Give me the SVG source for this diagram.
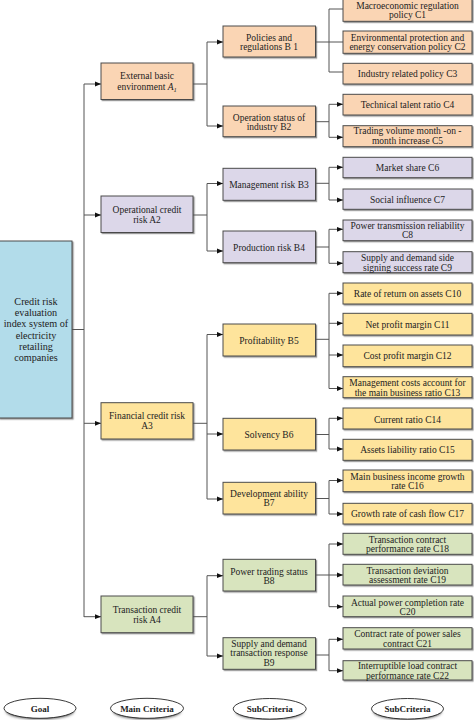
<svg xmlns="http://www.w3.org/2000/svg" width="474" height="720" viewBox="0 0 474 720">
<defs>
<style>
.bx{stroke:#4a4a4a;stroke-width:1;filter:url(#sh)}
.or{fill:#fad5b4}.pu{fill:#dcd7e9}.ye{fill:#fee49c}.gr{fill:#d8e4be}.bl{fill:#b2dcea}
text{font-family:"Liberation Serif","Times New Roman",serif;font-size:9.5px;fill:#222;text-anchor:middle}
.g text{font-size:10.2px}
.lbl text{font-weight:bold;font-size:9px}
.cn path{fill:none;stroke:#555;stroke-width:1}
.ar{marker-end:url(#ah)}
</style>
<marker id="ah" markerUnits="userSpaceOnUse" markerWidth="6" markerHeight="6" refX="6" refY="3" orient="auto">
<path d="M0,0.6 L6,3 L0,5.4 Z" fill="#111"/>
</marker>
<filter id="sh" x="-5%" y="-5%" width="115%" height="130%">
<feDropShadow dx="1.2" dy="1.2" stdDeviation="0.4" flood-color="#555" flood-opacity="0.6"/>
</filter>
<filter id="bl2" x="-20%" y="-50%" width="140%" height="200%">
<feGaussianBlur stdDeviation="1.6"/>
</filter>
</defs>
<rect width="474" height="720" fill="#fff"/>

<g class="cn">
<path d="M72 329.5H84M84 84V617"/>
<path class="ar" d="M84 84H101"/><path class="ar" d="M84 215H101"/><path class="ar" d="M84 423.3H101"/><path class="ar" d="M84 616.7H101"/>
<path d="M193 84H207M207 42V126"/><path class="ar" d="M207 42H223"/><path class="ar" d="M207 126H223"/>
<path d="M193 215H207M207 183.5V251"/><path class="ar" d="M207 183.5H223"/><path class="ar" d="M207 251H223"/>
<path d="M193 423.3H207M207 334.5V499"/><path class="ar" d="M207 334.5H223"/><path class="ar" d="M207 434H223"/><path class="ar" d="M207 499H223"/>
<path d="M193 616.7H207M207 575.7V656"/><path class="ar" d="M207 575.7H223"/><path class="ar" d="M207 656H223"/>
<path d="M315.5 42H329M329 9V72M329 9H343M329 42H343M329 72H343"/>
<path d="M315.5 121.7H329M329 104.3V137.3"/><path class="ar" d="M329 104.3H343"/><path class="ar" d="M329 137.3H343"/>
<path d="M315.5 183.3H329M329 167.3V200"/><path class="ar" d="M329 167.3H343"/><path class="ar" d="M329 200H343"/>
<path d="M315.5 247H329M329 229.3V263.3"/><path class="ar" d="M329 229.3H343"/><path class="ar" d="M329 263.3H343"/>
<path d="M315.5 339.3H329M329 293.3V388.5"/><path class="ar" d="M329 293.3H343"/><path class="ar" d="M329 323.3H343"/><path class="ar" d="M329 355H343"/><path class="ar" d="M329 388.5H343"/>
<path d="M315.5 434.5H329M329 418.3V449"/><path class="ar" d="M329 418.3H343"/><path class="ar" d="M329 449H343"/>
<path d="M315.5 498.5H329M329 480.5V514"/><path class="ar" d="M329 480.5H343"/><path class="ar" d="M329 514H343"/>
<path d="M315.5 575H329M329 544V606.7"/><path class="ar" d="M329 544H343"/><path class="ar" d="M329 575H343"/><path class="ar" d="M329 606.7H343"/>
<path d="M315.5 655H329M329 639.3V670.7"/><path class="ar" d="M329 639.3H343"/><path class="ar" d="M329 670.7H343"/>
</g>

<g id="goal" class="g"><rect class="bx bl" x="-1" y="241" width="73" height="177"/>
<text x="36" y="305.2">Credit risk</text><text x="36" y="316.3">evaluation</text><text x="36" y="327.4">index system of</text><text x="36" y="338.5">electricity</text><text x="36" y="349.6">retailing</text><text x="36" y="360.7">companies</text></g>

<g id="A1"><rect class="bx or" x="101" y="63" width="92" height="36.5"/><text x="147" y="78.8">External basic</text><text x="147" y="90.3">environment  <tspan font-style="italic">A</tspan><tspan font-style="italic" font-size="6.5" dy="1.5">1</tspan></text></g>
<g id="A2"><rect class="bx pu" x="101" y="196" width="92" height="36.5"/><text x="147" y="213.3">Operational credit</text><text x="147" y="223">risk  A2</text></g>
<g id="A3"><rect class="bx ye" x="101" y="402.7" width="92" height="36.3"/><text x="147" y="419.3">Financial credit risk</text><text x="147" y="429">A3</text></g>
<g id="A4"><rect class="bx gr" x="101" y="596" width="92" height="36.7"/><text x="147" y="613.3">Transaction credit</text><text x="147" y="622.6">risk A4</text></g>

<g id="B1"><rect class="bx or" x="223" y="26" width="92.5" height="31"/><text x="269" y="41">Policies and</text><text x="269" y="50.3">regulations B 1</text></g>
<g id="B2"><rect class="bx or" x="223" y="106" width="92.5" height="30.7"/><text x="269" y="120.6">Operation status of</text><text x="269" y="130.3">industry  B2</text></g>
<g id="B3"><rect class="bx pu" x="223" y="168.3" width="92.5" height="32"/><text x="269" y="187.6">Management risk  B3</text></g>
<g id="B4"><rect class="bx pu" x="223" y="231" width="92.5" height="31.7"/><text x="269" y="251">Production risk  B4</text></g>
<g id="B5"><rect class="bx ye" x="223" y="324" width="92.5" height="32"/><text x="269" y="344">Profitability  B5</text></g>
<g id="B6"><rect class="bx ye" x="223" y="418.3" width="92.5" height="31.7"/><text x="269" y="437.8">Solvency  B6</text></g>
<g id="B7"><rect class="bx ye" x="223" y="482.3" width="92.5" height="31.7"/><text x="269" y="497">Development ability</text><text x="269" y="506.3">B7</text></g>
<g id="B8"><rect class="bx gr" x="223" y="559.3" width="92.5" height="31.7"/><text x="269" y="575">Power trading status</text><text x="269" y="584.3">B8</text></g>
<g id="B9"><rect class="bx gr" x="223" y="637.7" width="92.5" height="31.6"/><text x="269" y="646.6">Supply and demand</text><text x="269" y="656.3">transaction response</text><text x="269" y="666">B9</text></g>

<g id="C1"><rect class="bx or" x="343" y="-1" width="129" height="22.3"/><text x="407.5" y="9">Macroeconomic regulation</text><text x="407.5" y="18">policy C1</text></g>
<g id="C2"><rect class="bx or" x="343" y="31" width="129" height="22.3"/><text x="407.5" y="40.6">Environmental protection and</text><text x="407.5" y="50.3">energy conservation policy C2</text></g>
<g id="C3"><rect class="bx or" x="343" y="63.3" width="129" height="20.7"/><text x="407.5" y="77.3">Industry related policy C3</text></g>
<g id="C4"><rect class="bx or" x="343" y="94.3" width="129" height="20.7"/><text x="407.5" y="107.6">Technical talent ratio C4</text></g>
<g id="C5"><rect class="bx or" x="343" y="125.7" width="129" height="21"/><text x="407.5" y="134.3">Trading volume month -on -</text><text x="407.5" y="144.3">month increase C5</text></g>
<g id="C6"><rect class="bx pu" x="343" y="157.3" width="129" height="20.4"/><text x="407.5" y="171">Market share C6</text></g>
<g id="C7"><rect class="bx pu" x="343" y="189" width="129" height="20.3"/><text x="407.5" y="202.6">Social influence C7</text></g>
<g id="C8"><rect class="bx pu" x="343" y="220" width="129" height="20.7"/><text x="407.5" y="228.6">Power transmission reliability</text><text x="407.5" y="238.3">C8</text></g>
<g id="C9"><rect class="bx pu" x="343" y="251.7" width="129" height="21"/><text x="407.5" y="260.6">Supply and demand side</text><text x="407.5" y="270.6">signing success rate C9</text></g>
<g id="C10"><rect class="bx ye" x="343" y="283" width="129" height="21"/><text x="407.5" y="297.3">Rate of return on assets C10</text></g>
<g id="C11"><rect class="bx ye" x="343" y="313.3" width="129" height="21.7"/><text x="407.5" y="327.6">Net profit margin C11</text></g>
<g id="C12"><rect class="bx ye" x="343" y="345" width="129" height="21.7"/><text x="407.5" y="359">Cost profit margin C12</text></g>
<g id="C13"><rect class="bx ye" x="343" y="376.7" width="129" height="21"/><text x="407.5" y="386">Management costs account for</text><text x="407.5" y="395.6">the main business ratio C13</text></g>
<g id="C14"><rect class="bx ye" x="343" y="408" width="129" height="21"/><text x="407.5" y="422.6">Current ratio C14</text></g>
<g id="C15"><rect class="bx ye" x="343" y="439.3" width="129" height="21"/><text x="407.5" y="453">Assets liability ratio C15</text></g>
<g id="C16"><rect class="bx ye" x="343" y="470" width="129" height="21.7"/><text x="407.5" y="480">Main business income growth</text><text x="407.5" y="489.3">rate C16</text></g>
<g id="C17"><rect class="bx ye" x="343" y="503.3" width="129" height="20.7"/><text x="407.5" y="517">Growth rate of cash flow C17</text></g>
<g id="C18"><rect class="bx gr" x="343" y="533.3" width="129" height="21"/><text x="407.5" y="542.6">Transaction contract</text><text x="407.5" y="552">performance rate C18</text></g>
<g id="C19"><rect class="bx gr" x="343" y="564.3" width="129" height="20.7"/><text x="407.5" y="573.6">Transaction deviation</text><text x="407.5" y="583.3">assessment rate C19</text></g>
<g id="C20"><rect class="bx gr" x="343" y="596" width="129" height="20.7"/><text x="407.5" y="605.6">Actual power completion rate</text><text x="407.5" y="615">C20</text></g>
<g id="C21"><rect class="bx gr" x="343" y="627.7" width="129" height="21.3"/><text x="407.5" y="637">Contract rate of power sales</text><text x="407.5" y="646.6">contract C21</text></g>
<g id="C22"><rect class="bx gr" x="343" y="660.7" width="129" height="19.3"/><text x="407.5" y="669.3">Interruptible load contract</text><text x="407.5" y="679">performance rate C22</text></g>

<g id="labels" class="lbl">
<g id="lbl-goal"><ellipse cx="40" cy="711" rx="34" ry="8" fill="#444" filter="url(#bl2)"/><ellipse cx="40" cy="708.3" rx="36" ry="10" fill="#fff" stroke="#222" stroke-width="0.9"/><text x="40" y="711.5">Goal</text></g>
<g id="lbl-main"><ellipse cx="147" cy="711" rx="34" ry="8" fill="#444" filter="url(#bl2)"/><ellipse cx="147" cy="708.3" rx="36.5" ry="10" fill="#fff" stroke="#222" stroke-width="0.9"/><text x="147" y="711.5">Main Criteria</text></g>
<g id="lbl-sub1"><ellipse cx="269.7" cy="711.5" rx="34" ry="8" fill="#444" filter="url(#bl2)"/><ellipse cx="269.7" cy="708.8" rx="36.5" ry="10.3" fill="#fff" stroke="#222" stroke-width="0.9"/><text x="269.7" y="712">SubCriteria</text></g>
<g id="lbl-sub2"><ellipse cx="407.5" cy="711.5" rx="34" ry="8" fill="#444" filter="url(#bl2)"/><ellipse cx="407.5" cy="708.8" rx="36" ry="10.3" fill="#fff" stroke="#222" stroke-width="0.9"/><text x="407.5" y="712">SubCriteria</text></g>
</g>
</svg>
